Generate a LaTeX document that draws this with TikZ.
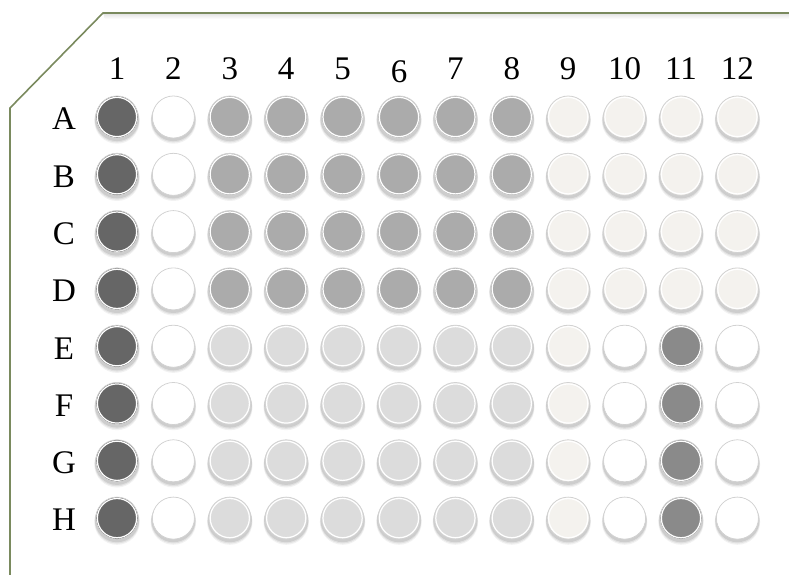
\documentclass[tikz,border=0pt]{standalone}
\usepackage{fontspec}
\setmainfont{Liberation Serif}
\definecolor{olive}{HTML}{7A8A5E}
\definecolor{cdark}{HTML}{666666}
\definecolor{cmid}{HTML}{ABABAB}
\definecolor{clight}{HTML}{DCDCDC}
\definecolor{coff}{HTML}{F4F2EE}
\definecolor{cgray}{HTML}{8A8A8A}
\definecolor{ring}{HTML}{D2D2D2}
\tikzset{
  lbl/.style={font=\fontsize{33}{33}\selectfont, inner sep=0pt, anchor=base},
  well/.style={circle, minimum size=42pt, inner sep=0pt, draw=ring, line width=0.8pt},
}
\begin{document}
\begin{tikzpicture}[x=1pt,y=-1pt]
\useasboundingbox (0,0) rectangle (789,575);
% top shadow
\foreach \i/\o in {1/0.10,2/0.08,3/0.06,4/0.04,5/0.02}{
  \fill[black,opacity=\o] (103+\i*0.3,13+\i) -- (789,13+\i) -- (789,14+\i) -- (103+\i*0.3,14+\i) -- cycle;
}
% outline
\coordinate (p1) at (10,575);
\coordinate (p2) at (10,108);
\coordinate (p3) at (103,13);
\coordinate (p4) at (789,13);
\draw[olive, line width=1.6pt] (p1) -- (p2) -- (p3) -- (p4);
% column labels
\foreach \c in {1,...,12}{
  \pgfmathsetmacro{\xx}{117+56.4*(\c-1)}
  \ifnum\c=6 \node[lbl] (c\c) at (\xx,83) {\c};
  \else \node[lbl] (c\c) at (\xx,80) {\c}; \fi
}
% row labels
\foreach \r [count=\i] in {A,B,C,D,E,F,G,H}{
  \pgfmathsetmacro{\yy}{117+57.3*(\i-1)}
  \node[lbl, anchor=center] (r\r) at (64,\yy+2) {\r};
}
% wells
\foreach \r [count=\i] in {A,B,C,D,E,F,G,H}{
  \foreach \c in {1,...,12}{
    \pgfmathsetmacro{\xx}{117+56.4*(\c-1)}
    \pgfmathsetmacro{\yy}{117+57.3*(\i-1)}
    \pgfmathtruncatemacro{\ci}{\c}
    \def\col{white}
    \ifnum\ci=1 \def\col{cdark}\fi
    \ifnum\ci>2 \ifnum\ci<9 \ifnum\i<5 \def\col{cmid}\else\def\col{clight}\fi\fi\fi
    \ifnum\ci>8 \ifnum\i<5 \def\col{coff}\fi\fi
    \ifnum\i>4 \ifnum\ci=9 \def\col{coff}\fi \ifnum\ci=11 \def\col{cgray}\fi\fi
    \foreach \k/\o in {4/0.05,3/0.07,2/0.09}{
      \fill[black,opacity=\o] (\xx,\yy+\k) circle (21.5+\k*0.3);
    }
    \node[well, fill=\col] (w\r\c) at (\xx,\yy) {};
    \draw[white, line width=1.2pt] (w\r\c.center) circle (19.6);
  }
}
\end{tikzpicture}
\end{document}
